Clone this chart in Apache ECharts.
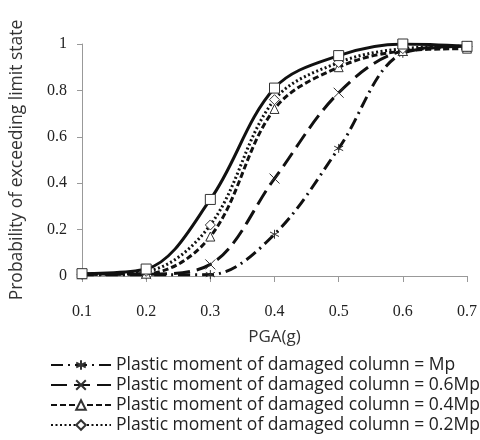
<!DOCTYPE html>
<html>
<head>
<meta charset="utf-8">
<script src="https://cdn.jsdelivr.net/npm/echarts@6/dist/echarts.min.js"></script>
<style>html,body{margin:0;padding:0;background:#fff}#c{width:480px;height:440px}</style>
</head>
<body>
<div id="c"></div>
<script>
var categories = ['0.1','0.2','0.3','0.4','0.5','0.6','0.7'];
var yTicks = ['0','0.2','0.4','0.6','0.8','1'];
var seriesNames = [
  'Plastic moment of damaged column = Mp',
  'Plastic moment of damaged column = 0.6Mp',
  'Plastic moment of damaged column = 0.4Mp',
  'Plastic moment of damaged column = 0.2Mp',
  'Undamaged column'
];
var valuesMp   = [0.005, 0.005, 0.006, 0.18, 0.55, 0.96, 0.99];
var values06Mp = [0.008, 0.008, 0.05, 0.42, 0.79, 0.97, 0.99];
var values04Mp = [0.008, 0.01, 0.17, 0.72, 0.90, 0.97, 0.98];
var values02Mp = [0.008, 0.02, 0.22, 0.76, 0.92, 0.98, 0.99];
var valuesUnd  = [0.01, 0.03, 0.33, 0.81, 0.95, 1.0, 0.99];

var asterisk = 'path://M0,-5L0,5M-4.33,-2.5L4.33,2.5M-4.33,2.5L4.33,-2.5';
var cross = 'path://M-5,-3L5,3M-5,3L5,-3';

function mk(name, data, dash, symbol, symSize, strokeSym) {
  return {
    name: name, type: 'line', data: data, smooth: 0.35,
    symbol: symbol, symbolSize: symSize, showSymbol: true,
    lineStyle: {color: '#111', width: 3, type: dash},
    itemStyle: strokeSym
      ? {color: 'rgba(0,0,0,0)', borderColor: '#333', borderWidth: 1}
      : {color: '#fff', borderColor: '#333', borderWidth: 1},
    emphasis: {disabled: true},
    z: 3
  };
}

var chart = echarts.init(document.getElementById('c'));
chart.setOption({
  animation: false,
  backgroundColor: '#fff',
  grid: {left: 78, right: 13, top: 44, bottom: 164},
  xAxis: {
    type: 'category', data: categories, boundaryGap: false,
    name: 'PGA(g)', nameLocation: 'middle', nameGap: 53,
    nameTextStyle: {fontFamily: 'Open Sans', fontSize: 17, color: '#333'},
    axisLine: {lineStyle: {color: '#999', width: 1}},
    axisTick: {show: true, length: 6, lineStyle: {color: '#999'}},
    axisLabel: {fontFamily: 'Liberation Serif', fontSize: 16, color: '#222', margin: 28}
  },
  yAxis: {
    type: 'value', min: 0, max: 1, interval: 0.2,
    name: 'Probability of exceeding limit state', nameLocation: 'middle', nameGap: 56,
    nameTextStyle: {fontFamily: 'Open Sans', fontSize: 17.5, color: '#333'},
    axisLine: {show: true, lineStyle: {color: '#999', width: 1}},
    axisTick: {show: true, length: 5, lineStyle: {color: '#999'}},
    splitLine: {show: false},
    axisLabel: {
      fontFamily: 'Liberation Serif', fontSize: 16, color: '#222', margin: 15,
      formatter: function (v) { return yTicks[Math.round(v / 0.2)]; }
    }
  },
  legend: {
    data: seriesNames.slice(0, 4),
    orient: 'vertical', left: 45, top: 351,
    itemWidth: 60, itemHeight: 12, itemGap: 2,
    textStyle: {fontFamily: 'Open Sans', fontSize: 17.5, color: '#222', lineHeight: 17},
    inactiveColor: '#111'
  },
  series: [
    mk(seriesNames[0], valuesMp, [12, 5, 2, 5], asterisk, 9, true),
    mk(seriesNames[1], values06Mp, [16, 7], cross, 10, true),
    mk(seriesNames[2], values04Mp, [6, 3], 'triangle', 9, false),
    mk(seriesNames[3], values02Mp, [2, 2.5], 'diamond', 10, false),
    mk(seriesNames[4], valuesUnd, 'solid', 'rect', 10, false)
  ]
});
</script>
</body>
</html>
